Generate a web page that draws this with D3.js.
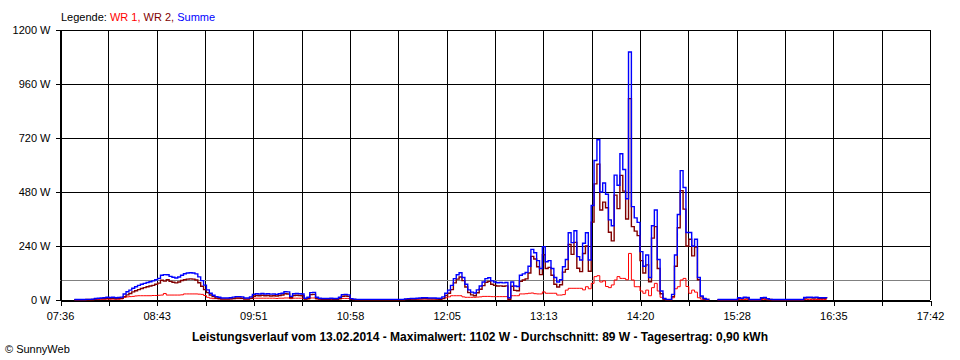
<!DOCTYPE html>
<html>
<head>
<meta charset="utf-8">
<script src="https://cdn.jsdelivr.net/npm/d3@7"></script>
<style>
  html, body { margin: 0; padding: 0; background: #fff; }
  svg { display: block; }
  text { font-family: "Liberation Sans", Arial, sans-serif; }
</style>
</head>
<body>
<svg id="chart" width="960" height="360"></svg>
<script>
// ---- data ----
const dayLabel = "13.02.2014";
const startMinute = 466;      // 07:46
const stepMinutes = 2;
const axisStartMinute = 456;  // 07:36
const axisEndMinute = 1062;   // 17:42
const xTickLabels = ["07:36", "08:43", "09:51", "10:58", "12:05", "13:13", "14:20", "15:28", "16:35", "17:42"];
const yTickValues = [0, 240, 480, 720, 960, 1200];
const avgValue = 89;
const maxValue = 1102;
const dailyYield = "0,90";
const seriesNames = ["WR 1", "WR 2", "Summe"];
const seriesColors = ["#ff0000", "#800000", "#0000ff"];

const summe = [
  2,2,2,2,3,3,4,7,8,9,
  10,12,11,12,10,11,13,27,37,44,
  52,59,65,70,74,78,81,85,90,96,
  110,113,112,105,101,98,102,110,117,120,
  121,120,116,103,86,66,45,30,21,15,
  12,9,9,9,10,13,15,15,14,9,
  9,14,25,28,27,29,27,28,26,27,
  25,28,30,37,36,16,28,29,28,27,
  8,12,33,34,12,8,7,7,7,8,
  7,7,12,24,25,23,6,4,3,3,
  3,3,3,3,3,3,3,3,3,3,
  3,3,3,3,3,5,6,7,7,8,
  9,10,10,9,9,9,8,8,14,30,
  44,65,95,112,121,100,70,45,35,31,
  45,62,80,95,99,85,80,77,78,76,
  78,10,80,62,60,110,116,122,150,225,
  210,175,140,237,170,175,140,100,80,90,
  148,180,299,255,308,193,178,252,299,178,
  420,620,712,480,520,470,356,330,555,510,
  650,580,450,1102,415,365,345,215,150,200,
  100,330,400,180,40,7,3,3,25,200,
  380,575,500,300,300,240,270,100,18,7,
  3,2,null,null,2,2,2,2,2,2,
  2,10,8,12,11,2,2,2,2,10,
  11,6,3,2,2,2,2,2,2,2,
  2,2,2,2,11,12,12,11,12,10,
  10,10,9
];

const wr1 = [
  1,1,1,1,1,1,1,2,2,3,
  3,4,3,4,3,3,5,12,14,15,
  16,18,19,19,19,19,19,20,20,21,
  22,29,22,22,22,22,22,23,27,27,
  27,27,27,26,25,20,12,8,6,6,
  5,5,5,5,5,6,6,6,6,5,
  5,6,8,8,8,8,8,8,8,8,
  7,8,8,9,9,6,8,8,8,8,
  4,5,9,9,5,4,4,4,4,4,
  4,4,5,7,7,7,3,2,2,2,
  2,2,2,2,2,2,2,2,2,2,
  2,2,2,2,2,2,3,3,3,3,
  4,4,4,4,4,4,4,5,7,10,
  14,19,19,19,19,14,12,12,12,12,
  13,14,16,16,16,15,15,15,15,15,
  15,8,19,19,19,27,27,28,30,31,
  28,27,27,36,30,30,30,30,22,22,
  24,44,52,52,52,52,52,45,59,50,
  74,104,108,80,85,60,55,67,89,104,
  96,96,90,207,89,59,59,40,30,44,
  19,55,74,40,12,3,2,2,10,50,
  59,89,96,60,30,44,35,10,4,2,
  1,1,null,null,1,1,1,1,1,1,
  1,2,2,2,2,1,1,1,1,2,
  2,1,1,1,1,1,1,1,1,1,
  1,1,1,1,2,2,2,2,2,2,
  2,2,2
];

const wr2 = [
  1,1,1,1,2,2,3,5,6,6,
  7,8,8,8,7,8,8,15,23,29,
  36,41,46,51,55,59,62,65,70,75,
  88,84,90,83,79,76,80,87,90,93,
  94,93,89,77,61,46,33,22,15,9,
  7,4,4,4,5,7,9,9,8,4,
  4,8,17,20,19,21,19,20,18,19,
  18,20,22,28,27,10,20,21,20,19,
  4,7,24,25,7,4,3,3,3,4,
  3,3,7,17,18,16,3,2,1,1,
  1,1,1,1,1,1,1,1,1,1,
  1,1,1,1,1,3,3,4,4,5,
  5,6,6,5,5,5,4,3,7,20,
  30,46,76,93,102,86,58,33,23,19,
  32,48,64,79,83,70,65,62,63,61,
  63,2,61,43,41,83,89,94,120,194,
  182,148,113,201,140,145,110,70,58,68,
  124,136,247,203,256,141,126,207,240,128,
  346,516,604,400,435,410,301,263,466,406,
  554,484,360,895,326,306,286,175,120,156,
  81,275,326,140,28,4,1,1,15,150,
  321,486,404,240,270,196,235,90,14,5,
  2,1,null,null,1,1,1,1,1,1,
  1,8,6,10,9,1,1,1,1,8,
  9,5,2,1,1,1,1,1,1,1,
  1,1,1,1,9,10,10,9,10,8,
  8,8,7
];

// ---- layout ----
const margin = { left: 60, right: 30, top: 30, bottom: 60 };
const W = 960, H = 360;
const svg = d3.select("#chart");

const x = d3.scaleLinear().domain([axisStartMinute, axisEndMinute]).range([margin.left, W - margin.right]);
const y = d3.scaleLinear().domain([0, 1200]).range([H - margin.bottom, margin.top]);

const nGrid = 18;
const gridMinutes = d3.range(nGrid + 1).map(k => axisStartMinute + k * (axisEndMinute - axisStartMinute) / nGrid);

const g = svg.append("g").attr("shape-rendering", "crispEdges");

// vertical grid
g.selectAll("line.vg").data(gridMinutes).join("line")
  .attr("x1", d => Math.round(x(d)) + 0.5).attr("x2", d => Math.round(x(d)) + 0.5)
  .attr("y1", y(1200)).attr("y2", y(0))
  .attr("stroke", "#000").attr("stroke-width", 1);

// horizontal grid
g.selectAll("line.hg").data(yTickValues).join("line")
  .attr("x1", x(axisStartMinute)).attr("x2", x(axisEndMinute))
  .attr("y1", d => Math.round(y(d)) + 0.5).attr("y2", d => Math.round(y(d)) + 0.5)
  .attr("stroke", "#000").attr("stroke-width", 1);

// average line
g.append("line")
  .attr("x1", x(axisStartMinute)).attr("x2", x(axisEndMinute))
  .attr("y1", Math.round(y(avgValue)) + 0.5).attr("y2", Math.round(y(avgValue)) + 0.5)
  .attr("stroke", "#808080").attr("stroke-width", 1.5);

// axes
const yAxis = d3.axisLeft(y).tickValues(yTickValues).tickFormat(d => d + " W")
  .tickSizeInner(5).tickSizeOuter(0).tickPadding(5);
const xAxis = d3.axisBottom(x).tickValues(gridMinutes)
  .tickFormat((d, i) => (i % 2 === 0 ? xTickLabels[i / 2] : ""))
  .tickSizeInner(5).tickSizeOuter(0).tickPadding(7);

const ya = svg.append("g").attr("transform", `translate(${margin.left + 0.5},0)`).call(yAxis);
const xa = svg.append("g").attr("transform", `translate(0,${H - margin.bottom + 0.5})`).call(xAxis);
[ya, xa].forEach(a => {
  a.attr("shape-rendering", "crispEdges");
  a.selectAll("path,line").attr("stroke", "#000");
  a.selectAll("text").attr("fill", "#000").style("font-size", "11px")
    .style("font-family", '"Liberation Sans", Arial, sans-serif');
});
xa.selectAll(".tick line").attr("transform", "translate(0.5,0)");

// series
const series = [wr1, wr2, summe];
const widths = [1, 1.4, 1.4];
const line = d3.line()
  .defined(d => d != null)
  .x((d, i) => x(startMinute + i * stepMinutes))
  .y(d => y(d))
  .curve(d3.curveStepAfter);

series.forEach((vals, k) => {
  svg.append("path")
    .datum(vals)
    .attr("fill", "none")
    .attr("stroke", seriesColors[k])
    .attr("stroke-width", widths[k])
    .attr("d", line);
});

// legend
const leg = svg.append("text").attr("x", 61).attr("y", 21).style("font-size", "11px");
leg.append("tspan").attr("fill", "#000").text("Legende: ");
seriesNames.forEach((n, k) => {
  leg.append("tspan").attr("fill", seriesColors[k]).text(n + (k < seriesNames.length - 1 ? ", " : ""));
});

// title
svg.append("text")
  .attr("x", 480).attr("y", 341)
  .attr("text-anchor", "middle")
  .style("font-size", "12px").style("font-weight", "bold").attr("fill", "#000")
  .text(`Leistungsverlauf vom ${dayLabel} - Maximalwert: ${maxValue} W - Durchschnitt: ${avgValue} W - Tagesertrag: ${dailyYield} kWh`);

// copyright
svg.append("text")
  .attr("x", 5).attr("y", 353)
  .style("font-size", "11px").attr("fill", "#000")
  .text("© SunnyWeb");
</script>
</body>
</html>
